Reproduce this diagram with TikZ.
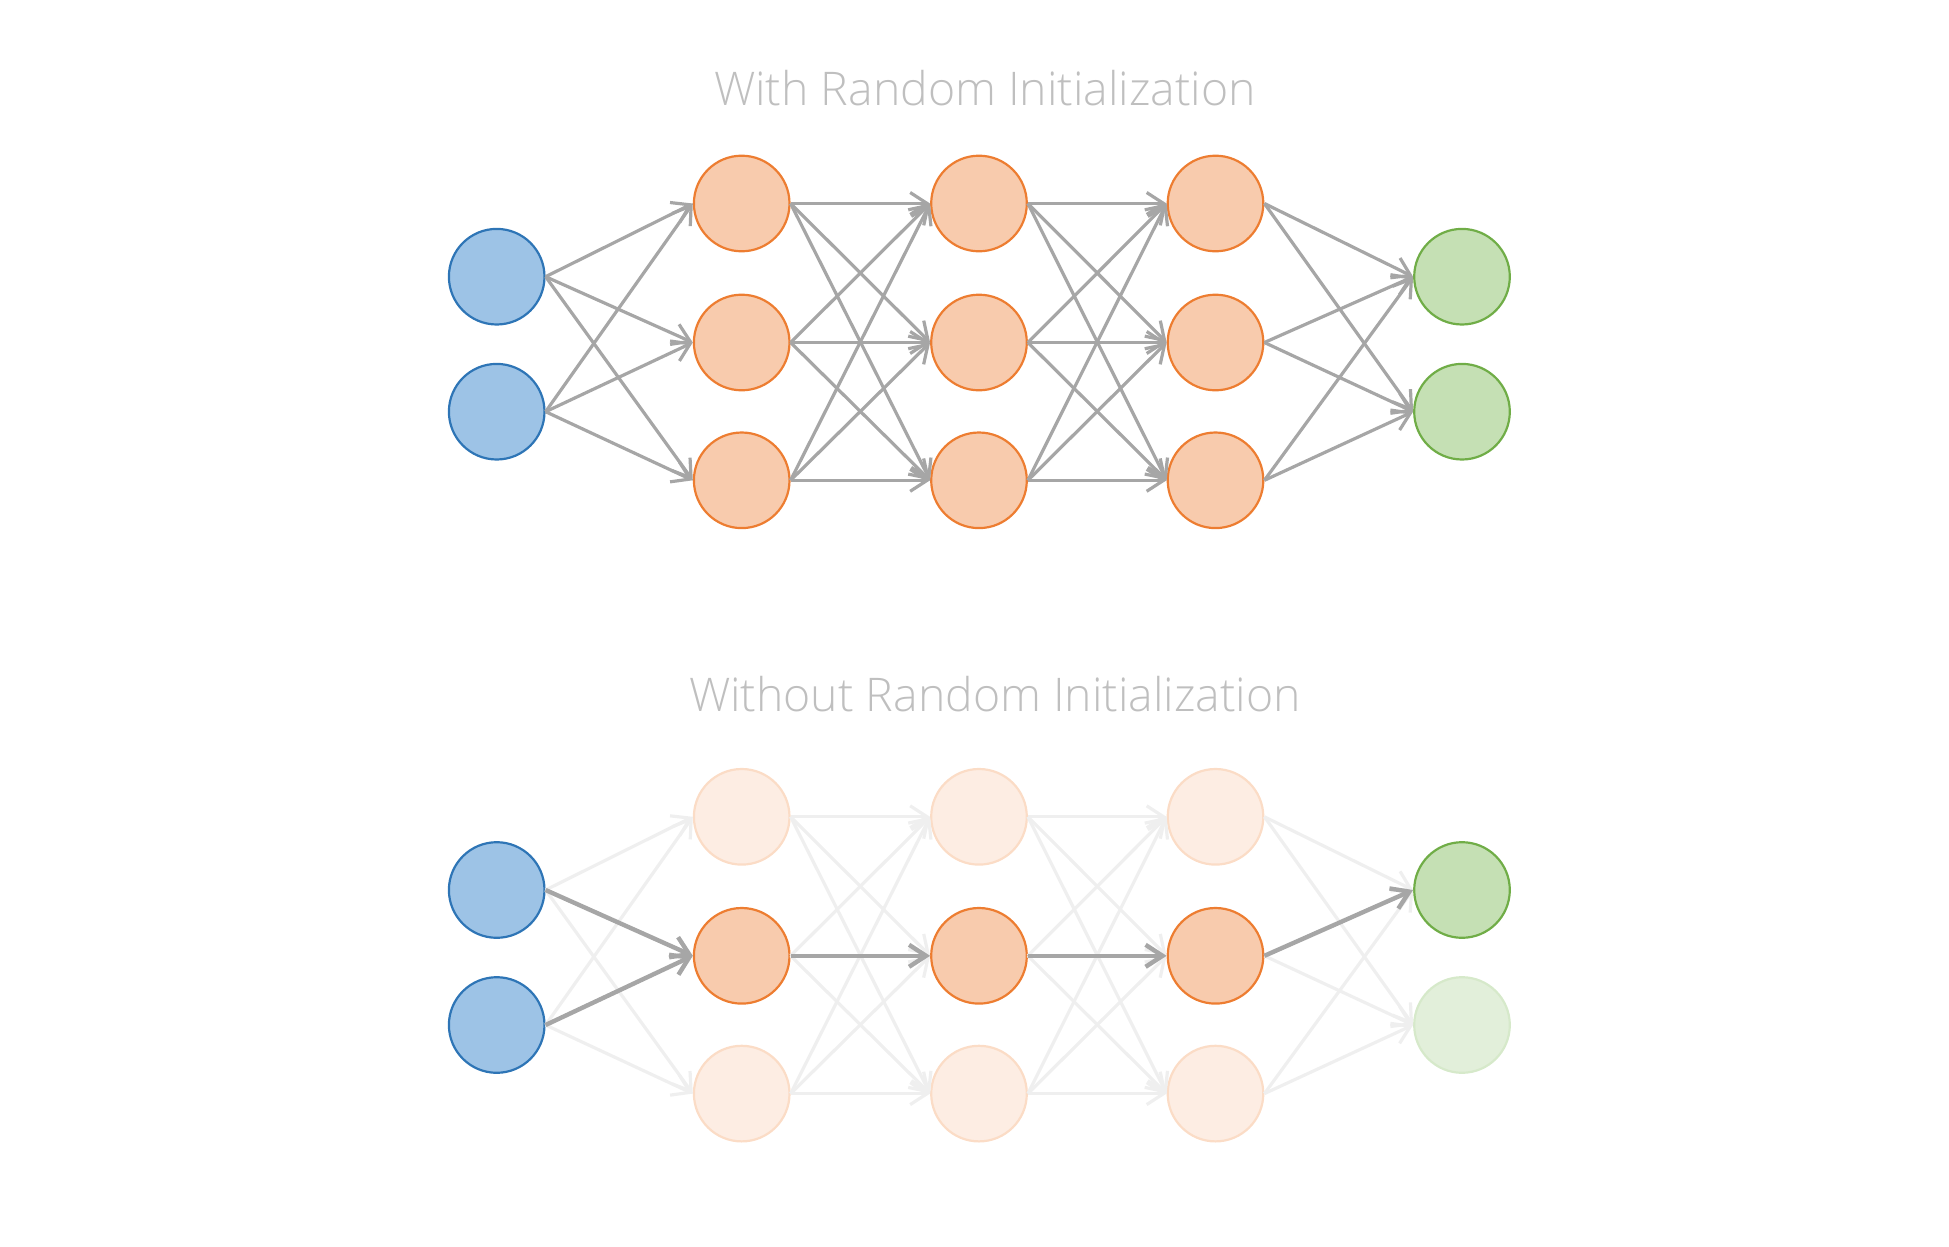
\documentclass[tikz,border=0pt]{standalone}
\usepackage{fontspec}
\setmainfont{Open Sans}[UprightFont=* Light]
\usetikzlibrary{calc,arrows.meta}

\definecolor{inFill}{HTML}{9DC3E6}
\definecolor{inLine}{HTML}{2E75B6}
\definecolor{hidFill}{HTML}{F8CBAD}
\definecolor{hidLine}{HTML}{ED7D31}
\definecolor{hidFillFaint}{HTML}{FDEDE3}
\definecolor{hidLineFaint}{HTML}{FBDCC6}
\definecolor{outFill}{HTML}{C5E0B4}
\definecolor{outLine}{HTML}{70AD47}
\definecolor{outFillFaint}{HTML}{E2EFDA}
\definecolor{outLineFaint}{HTML}{D6E9CA}
\definecolor{connGray}{HTML}{A6A6A6}
\definecolor{connFaint}{HTML}{EFEFEF}
\definecolor{capGray}{HTML}{BFBFBF}

\tikzset{
    unit/.style={circle, minimum size=47.8pt, inner sep=0pt, line width=1.1pt},
    inunit/.style={unit, draw=inLine, fill=inFill},
    hidunit/.style={unit, draw=hidLine, fill=hidFill},
    hidfaint/.style={unit, draw=hidLineFaint, fill=hidFillFaint},
    outunit/.style={unit, draw=outLine, fill=outFill},
    outfaint/.style={unit, draw=outLineFaint, fill=outFillFaint},
    conn/.style={draw=connGray, line width=1.6pt, -{Straight Barb[length=8.5pt, width=11pt]}},
    connfaint/.style={conn, draw=connFaint},
    connbold/.style={conn, line width=2.2pt},
    caption/.style={anchor=base, text=capGray, font=\fontsize{23.2}{28}\selectfont},
}

\begin{document}
\begin{tikzpicture}[x=0.5pt, y=-0.5pt]
    \useasboundingbox (0,0) rectangle (1949,1247);

    % with random initialization
    \node[caption] (rand_cap) at (985,105) {With Random Initialization};

    \node[inunit] (rand_in_1) at (496.7,276.7) {};
    \node[inunit] (rand_in_2) at (496.7,411.7) {};
    \foreach \x [count=\c] in {741.7,979,1215.5}
        \foreach \y [count=\r] in {203.5,342.5,480.3}
            \node[hidunit] (rand_h_\c_\r) at (\x,\y) {};
    \node[outunit] (rand_out_1) at (1462,276.7) {};
    \node[outunit] (rand_out_2) at (1462,411.7) {};

    \foreach \i in {1,2}
        \foreach \j in {1,2,3}
            \draw[conn] (rand_in_\i.east) -- (rand_h_1_\j.west);
    \foreach \c/\n in {1/2,2/3}
        \foreach \i in {1,2,3}
            \foreach \j in {1,2,3}
                \draw[conn] (rand_h_\c_\i.east) -- (rand_h_\n_\j.west);
    \foreach \i in {1,2,3}
        \foreach \j in {1,2}
            \draw[conn] (rand_h_3_\i.east) -- (rand_out_\j.west);

    % without random initialization
    \node[caption] (zero_cap) at (995,711.7) {Without Random Initialization};

    \node[inunit] (zero_in_1) at (496.7,890) {};
    \node[inunit] (zero_in_2) at (496.7,1025) {};
    \foreach \x [count=\c] in {741.7,979,1215.5}
        \foreach \y [count=\r] in {816.8,955.8,1093.6}{
            \ifnum\r=2 \def\unitstyle{hidunit}\else\def\unitstyle{hidfaint}\fi
            \node[\unitstyle] (zero_h_\c_\r) at (\x,\y) {};
        }
    \node[outunit] (zero_out_1) at (1462,890) {};
    \node[outfaint] (zero_out_2) at (1462,1025) {};

    \foreach \i in {1,2}
        \foreach \j in {1,2,3}
            \draw[connfaint] (zero_in_\i.east) -- (zero_h_1_\j.west);
    \foreach \c/\n in {1/2,2/3}
        \foreach \i in {1,2,3}
            \foreach \j in {1,2,3}
                \draw[connfaint] (zero_h_\c_\i.east) -- (zero_h_\n_\j.west);
    \foreach \i in {1,2,3}
        \foreach \j in {1,2}
            \draw[connfaint] (zero_h_3_\i.east) -- (zero_out_\j.west);

    % the one path that is left
    \draw[connbold] (zero_in_1.east) -- (zero_h_1_2.west);
    \draw[connbold] (zero_in_2.east) -- (zero_h_1_2.west);
    \draw[connbold] (zero_h_1_2.east) -- (zero_h_2_2.west);
    \draw[connbold] (zero_h_2_2.east) -- (zero_h_3_2.west);
    \draw[connbold] (zero_h_3_2.east) -- (zero_out_1.west);
\end{tikzpicture}
\end{document}
